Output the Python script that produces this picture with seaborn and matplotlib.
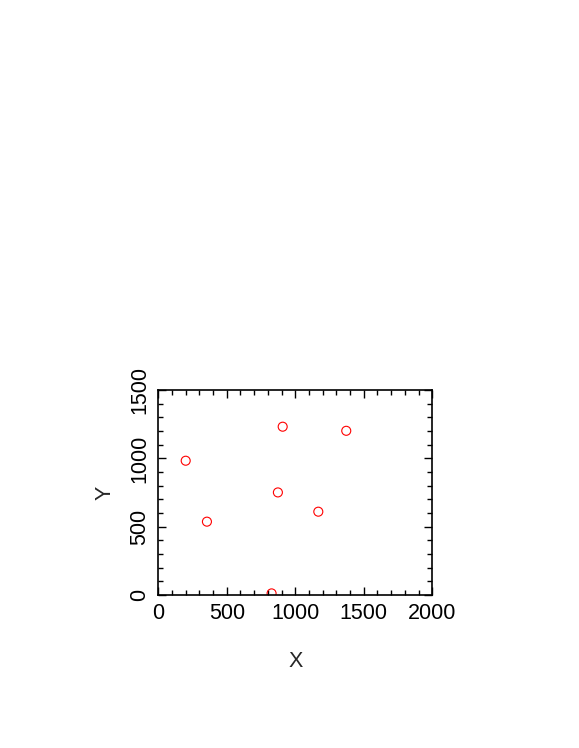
import matplotlib
matplotlib.use("Agg")
import matplotlib.pyplot as plt
import seaborn as sns
import pandas as pd
from matplotlib.ticker import MultipleLocator

# valores
x_vals = [200, 355, 827, 873, 908, 1168, 1372]
y_vals = [983, 537, 12, 751, 1232, 610, 1202]

df = pd.DataFrame({"X": x_vals, "Y": y_vals})

sns.set_style("ticks")
plt.rcParams["font.family"] = ["Liberation Sans", "DejaVu Sans"]

fig = plt.figure(figsize=(5.79, 7.48), dpi=100)
ax = fig.add_axes([0.2734, 0.2045, 0.4732, 0.274])

sns.scatterplot(data=df, x="X", y="Y", ax=ax, marker="o", s=42,
                facecolors="none", edgecolor="red", linewidth=0.8)

ax.set_xlim(0, 2000)
ax.set_ylim(0, 1500)
ax.xaxis.set_major_locator(MultipleLocator(500))
ax.xaxis.set_minor_locator(MultipleLocator(100))
ax.yaxis.set_major_locator(MultipleLocator(500))
ax.yaxis.set_minor_locator(MultipleLocator(100))

ax.tick_params(which="both", direction="in", top=True, right=True,
               color="black", width=1.0, labelsize=15.5, labelcolor="black")
ax.tick_params(which="major", length=6, pad=6)
ax.tick_params(which="minor", length=3.5)
for lab in ax.get_yticklabels():
    lab.set_rotation(90)
    lab.set_va("center")

for sp in ax.spines.values():
    sp.set_visible(True)
    sp.set_color("black")
    sp.set_linewidth(1.2)

ax.set_xlabel("X", fontsize=15.5, labelpad=19)
ax.set_ylabel("Y", fontsize=15.5, labelpad=10)

fig.savefig("out.png", dpi=100, facecolor="white")
